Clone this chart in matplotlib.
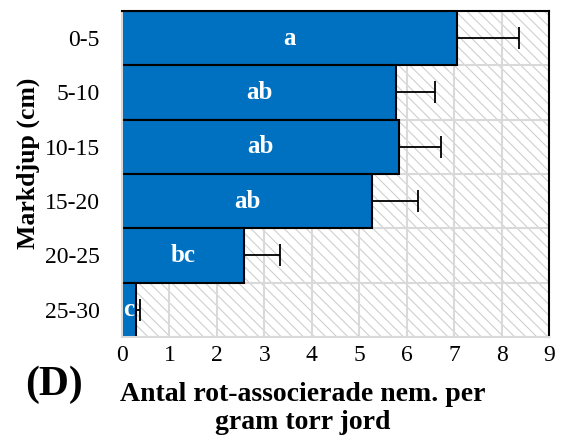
import numpy as np
import matplotlib
matplotlib.use("Agg")
import matplotlib.pyplot as plt
from matplotlib.patches import Rectangle

plt.rcParams['font.family'] = ['Liberation Serif', 'DejaVu Serif']
plt.rcParams['hatch.linewidth'] = 0.8
plt.rcParams['hatch.color'] = '#cfcfcf'

depths = ['0-5', '5-10', '10-15', '15-20', '20-25', '25-30']
means = [7.06, 5.78, 5.83, 5.27, 2.57, 0.30]
errors = [1.30, 0.81, 0.89, 0.97, 0.76, 0.09]
letters = ['a', 'ab', 'ab', 'ab', 'bc', 'c']

fig = plt.figure(figsize=(5.64, 4.38), dpi=100)
ax = fig.add_axes([0.2163, 0.2306, 0.7571, 0.7443])

# hatched background
ax.add_patch(Rectangle((0, 0), 1, 1, transform=ax.transAxes, facecolor='white',
                       hatch='\\\\\\', edgecolor='#cfcfcf', lw=0, zorder=0))

y = np.arange(len(depths))
ax.set_xlim(0, 9)
ax.set_ylim(len(depths) - 0.5, -0.5)

for yy in np.arange(len(depths) + 1) - 0.5:
    ax.axhline(yy, color='#d9d9d9', lw=1.5, zorder=1)
for xx in range(1, 10):
    ax.axvline(xx, color='#d9d9d9', lw=1.5, zorder=1)

ax.barh(y, means, height=1.0, color='#0070C0', edgecolor='black', lw=1.5, zorder=2)
ax.errorbar(means, y, xerr=[np.zeros(len(means)), errors], fmt='none',
            ecolor='black', elinewidth=1.3, capsize=8, capthick=1.3, zorder=3)

for yy, m, lab in zip(y, means, letters):
    ax.text(m / 2, yy, lab, color='white', fontsize=18, fontweight='bold',
            ha='center', va='center', zorder=4)

ax.set_yticks(y)
ax.set_yticklabels(depths, fontsize=17)
ax.set_xticks(range(10))
ax.set_xticklabels([str(i) for i in range(10)], fontsize=17)
ax.tick_params(axis='both', length=0)
ax.tick_params(axis='y', pad=16)
ax.tick_params(axis='x', pad=6)

ax.spines['top'].set_color('black')
ax.spines['right'].set_color('black')
ax.spines['left'].set_color('#d9d9d9')
ax.spines['bottom'].set_color('#d9d9d9')
for s in ax.spines.values():
    s.set_linewidth(1.5)
    s.set_zorder(5)

ax.set_ylabel('Markdjup (cm)', fontsize=18.5, fontweight='bold')
ax.yaxis.set_label_coords(-0.192, 0.534)

fig.text(0.537, 0.068, 'Antal rot-associerade nem. per\ngram torr jord',
         fontsize=20, fontweight='bold', ha='center', va='center', linespacing=1.15)
fig.text(0.095, 0.121, '(D)', fontsize=30, fontweight='bold', ha='center', va='center')

fig.savefig('out.png', dpi=100)
